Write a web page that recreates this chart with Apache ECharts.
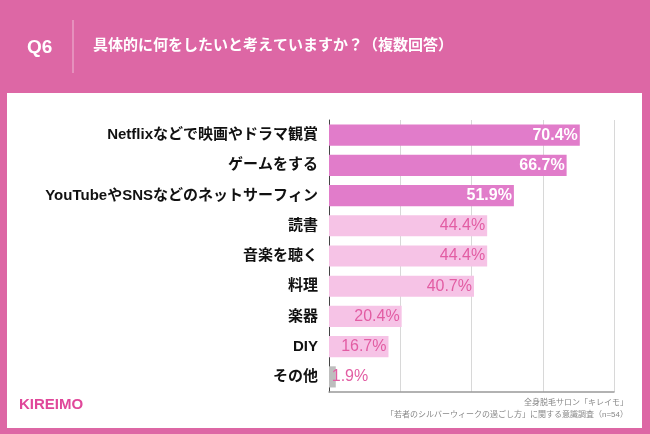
<!DOCTYPE html>
<html><head><meta charset="utf-8">
<script src="https://cdn.jsdelivr.net/npm/echarts@6/dist/echarts.min.js"></script>
<style>html,body{margin:0;padding:0;background:#DD67A5;}#c{width:650px;height:434px;}</style>
</head><body><div id="c"></div>
<script>
const categories = ['Netflixなどで映画やドラマ観賞','ゲームをする','YouTubeやSNSなどのネットサーフィン','読書','音楽を聴く','料理','楽器','DIY','その他'];
const values = [70.4, 66.7, 51.9, 44.4, 44.4, 40.7, 20.4, 16.7, 1.9];
const barKinds = ['dark','dark','dark','light','light','light','light','light','grey'];
const titleText = '具体的に何をしたいと考えていますか？（複数回答）';
const qText = 'Q6';
const sourceLines = ['全身脱毛サロン「キレイモ」','「若者のシルバーウィークの過ごし方」に関する意識調査（n=54）'];
const brand = 'KIREIMO';

const FONT = '"Liberation Sans","Noto Sans CJK JP",sans-serif';
const styles = {
  dark: {bar:'#E17CCA', label:'#FFFFFF', weight:'bold'},
  light:{bar:'#F6C3E6', label:'#E25DA3', weight:'normal'},
  grey: {bar:'#BDBDBD', label:'#E25DA3', weight:'normal'}
};

const data = values.map((v,i)=>{
  const s = styles[barKinds[i]];
  const lbl = {color:s.label, fontWeight:s.weight};
  if (barKinds[i]==='grey') { lbl.position='right'; lbl.distance=-4; }
  return {value:v, itemStyle:{color:s.bar}, label:lbl};
});

const chart = echarts.init(document.getElementById('c'));
chart.setOption({
  animation:false,
  backgroundColor:'#DD67A5',
  graphic:[
    {type:'rect', shape:{x:7,y:93,width:635,height:335}, style:{fill:'#FFFFFF'}, z:-10},
    {type:'text', left:27, top:38, style:{text:qText, fill:'#fff', font:'bold 19px '+FONT}},
    {type:'line', shape:{x1:73,y1:20,x2:73,y2:73}, style:{stroke:'rgba(255,255,255,0.55)', lineWidth:1}},
    {type:'text', left:93, top:38, style:{text:titleText, fill:'#fff', font:'bold 15px '+FONT}},
    {type:'text', right:22, top:399, style:{text:sourceLines[0], fill:'#888', font:'8px '+FONT, align:'right'}},
    {type:'text', right:22, top:411, style:{text:sourceLines[1], fill:'#888', font:'8px '+FONT, align:'right'}},
    {type:'text', left:19, top:397, style:{text:brand, fill:'#E0479A', font:'bold 15px '+FONT}}
  ],
  grid:{left:329, right:36, top:120, bottom:42},
  xAxis:{type:'value', min:0, max:80, interval:20,
    axisLabel:{show:false}, axisTick:{show:false},
    axisLine:{show:true, lineStyle:{color:'#999', width:1.5}},
    splitLine:{show:true, lineStyle:{color:'#D8D8D8', width:1}}},
  yAxis:{type:'category', data:categories, inverse:true,
    axisTick:{show:false},
    axisLine:{show:true, lineStyle:{color:'#444', width:1}},
    axisLabel:{margin:11, color:'#111', fontWeight:'bold', fontSize:15, fontFamily:FONT}},
  series:[{type:'bar', data:data, barCategoryGap:'30%',
    label:{show:true, position:'insideRight', distance:2, fontSize:16, fontFamily:FONT,
      formatter:p=>p.value.toFixed(1)+'%'}}]
});
</script></body></html>
